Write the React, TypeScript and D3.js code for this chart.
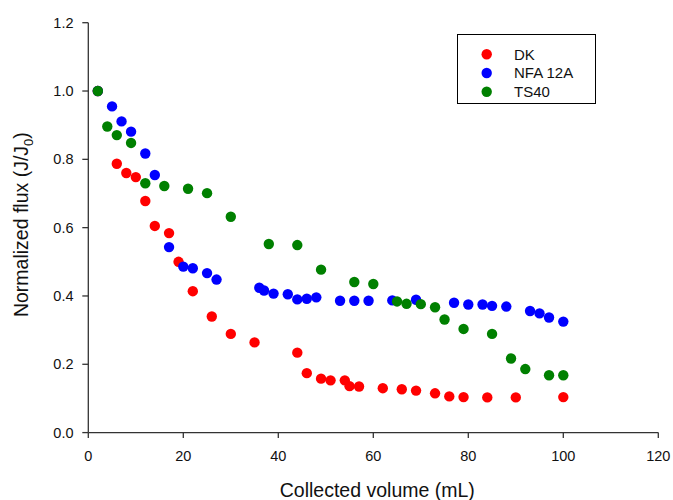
import React from "react";
import * as d3 from "d3";

const seriesNames = ["DK", "NFA 12A", "TS40"];
const seriesColors = ["#ff0000", "#0000ff", "#008000"];

const dkX = [2, 6, 8, 10, 12, 14, 17, 19, 22, 26, 30, 35, 44, 46, 49, 51, 54, 55, 57, 62, 66, 69, 73, 76, 79, 84, 90, 100];
const dkY = [1.0, 0.787, 0.76, 0.748, 0.678, 0.605, 0.584, 0.5, 0.414, 0.34, 0.289, 0.264, 0.234, 0.174, 0.158, 0.153, 0.153, 0.136, 0.135, 0.13, 0.127, 0.123, 0.115, 0.106, 0.104, 0.103, 0.103, 0.104];

const nfaX = [2, 5, 7, 9, 12, 14, 17, 20, 22, 25, 27, 36, 37, 39, 42, 44, 46, 48, 53, 56, 59, 64, 69, 77, 80, 83, 85, 88, 93, 95, 97, 100];
const nfaY = [1.0, 0.955, 0.911, 0.881, 0.817, 0.754, 0.543, 0.486, 0.481, 0.467, 0.448, 0.424, 0.416, 0.407, 0.405, 0.39, 0.392, 0.396, 0.386, 0.386, 0.386, 0.387, 0.389, 0.38, 0.375, 0.375, 0.371, 0.369, 0.356, 0.349, 0.337, 0.325];

const tsX = [2, 4, 6, 9, 12, 16, 21, 25, 30, 38, 44, 49, 56, 60, 65, 67, 70, 73, 75, 79, 85, 89, 92, 97, 100];
const tsY = [1.0, 0.896, 0.871, 0.848, 0.73, 0.722, 0.714, 0.701, 0.632, 0.552, 0.549, 0.477, 0.441, 0.435, 0.384, 0.377, 0.376, 0.367, 0.331, 0.3035, 0.289, 0.217, 0.186, 0.168, 0.168];

const xTicks = [0, 20, 40, 60, 80, 100, 120];
const yTicks = [0, 0.2, 0.4, 0.6, 0.8, 1.0, 1.2];

const xTitle = "Collected volume (mL)";

export default function App() {
  const W = 673;
  const H = 500;
  const left = 88.3;
  const right = 658.3;
  const top = 22.7;
  const bottom = 432.6;
  const x = d3.scaleLinear().domain([0, 120]).range([left, right]);
  const y = d3.scaleLinear().domain([0, 1.2]).range([bottom, top]);
  const font = "'Liberation Sans', Arial, Helvetica, sans-serif";
  const axisColor = "#333";

  const series = [
    { xs: dkX, ys: dkY },
    { xs: nfaX, ys: nfaY },
    { xs: tsX, ys: tsY },
  ];

  const legend = { x: 457.5, y: 34.5, w: 138, h: 69 };

  return (
    <svg
      width={W}
      height={H}
      style={{ position: "absolute", left: 0, top: 0, background: "#fff" }}
      fontFamily={font}
    >
      {/* axes */}
      <line x1={left} x2={left} y1={top} y2={bottom} stroke={axisColor} strokeWidth={1.3} />
      <line x1={left} x2={right} y1={bottom} y2={bottom} stroke={axisColor} strokeWidth={1.3} />
      {xTicks.map((t) => (
        <g key={"xt" + t}>
          <line x1={x(t)} x2={x(t)} y1={bottom} y2={bottom + 5.5} stroke={axisColor} strokeWidth={1.3} />
          <text x={x(t)} y={461} textAnchor="middle" fontSize={14.5} fill="#111">
            {t}
          </text>
        </g>
      ))}
      {yTicks.map((t) => (
        <g key={"yt" + t}>
          <line x1={left - 6} x2={left} y1={y(t)} y2={y(t)} stroke={axisColor} strokeWidth={1.3} />
          <text x={73.5} y={y(t) + 5} textAnchor="end" fontSize={14.5} fill="#111">
            {t.toFixed(1)}
          </text>
        </g>
      ))}
      <text x={(left + right) / 2 + 4} y={497} textAnchor="middle" fontSize={19.5} fill="#111">
        {xTitle}
      </text>
      <text
        transform={`translate(27.5, ${(top + bottom) / 2 - 3}) rotate(-90)`}
        textAnchor="middle"
        fontSize={19.5}
        fill="#111"
      >
        Normalized flux (J/J<tspan fontSize={13} dy={5}>0</tspan>
        <tspan dy={-5}>)</tspan>
      </text>

      {/* points */}
      {series.map((s, i) => (
        <g key={"s" + i}>
          {s.xs.map((xv, j) => (
            <circle key={j} cx={x(xv)} cy={y(s.ys[j])} r={5.2} fill={seriesColors[i]} />
          ))}
        </g>
      ))}

      {/* legend */}
      <rect x={legend.x} y={legend.y} width={legend.w} height={legend.h} fill="#fff" stroke="#000" strokeWidth={1} />
      {seriesNames.map((n, i) => (
        <g key={"lg" + i}>
          <circle cx={486.7} cy={54.3 + i * 18.7} r={5.2} fill={seriesColors[i]} />
          <text x={514} y={60 + i * 18.4} fontSize={15} fill="#111">
            {n}
          </text>
        </g>
      ))}
    </svg>
  );
}
